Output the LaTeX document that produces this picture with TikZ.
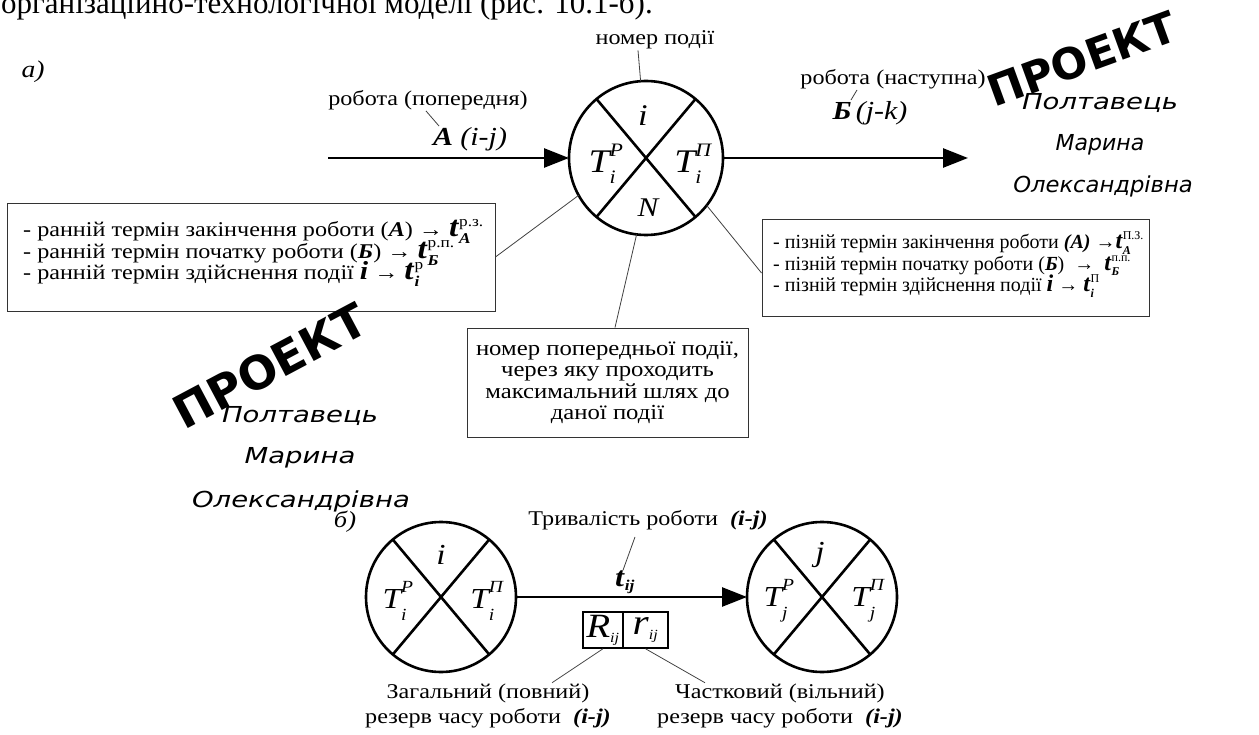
\RequirePackage{fix-cm}
\documentclass[tikz,border=0pt]{standalone}
\usepackage{amsmath}
\usepackage{fontspec}
\setmainfont{Liberation Serif}[FakeStretch=1.15]
\newfontfamily\plainserif{Liberation Serif}
\newfontfamily\stampfont{DejaVu Sans}
\newfontfamily\handfont{DejaVu Sans}
\usetikzlibrary{arrows.meta,calc}
% T label: base size, script size, sub, sup, extra raise
\newcommand\Tlab[5]{{\fontsize{#1}{#1}\selectfont$\textit{T}^{\raisebox{#5}{\fontsize{#2}{#2}\selectfont\itshape #4}}_{\raisebox{-#5}{\fontsize{#2}{#2}\selectfont\itshape #3}}$}}
% big bold t: size, sub, sup, script size
\newcommand\tbig[4]{\smash{\fontsize{#1}{21.5}\selectfont$\textbf{\textit{t}}^{\text{\fontsize{#4}{#4}\selectfont\upshape\mdseries #3}}_{\text{\fontsize{#4}{#4}\selectfont\bfseries\itshape #2}}$}}
\newcommand\ibig[1]{\smash{\fontsize{#1}{21.5}\selectfont\textbf{\textit{i}}}}
\begin{document}
\begin{tikzpicture}[x=1pt,y=-1pt,
  lbl/.style={inner sep=1pt, font=\fontsize{21}{21.5}\selectfont},
  lead/.style={line width=0.8pt, draw=black!75},
  ev/.style={circle, draw, line width=2.6pt, inner sep=0pt, outer sep=0pt},
  cross/.style={line width=2.6pt},
  arr/.style={line width=2.6pt, -{Triangle[length=25pt,width=19pt]}},
  infobox/.style={draw=black!80, line width=0.9pt, inner sep=0pt},
  boxtext/.style={inner sep=0pt, align=left},
  cell/.style={draw, line width=1.5pt, minimum height=36pt, inner sep=0pt},
  stamp/.style={inner sep=0pt, font=\stampfont\bfseries\fontsize{#1}{#1}\selectfont},
  hand/.style={inner sep=0pt, font=\handfont\itshape\fontsize{22}{22}\selectfont}
]
\useasboundingbox (0,0) rectangle (1259,735);

% cut-off heading line
\node[anchor=base west, inner sep=0pt, font=\plainserif\fontsize{31}{31}\selectfont] (title) at (1,14) {організаційно-технологічної моделі (рис. 10.1-б).};

\node[inner sep=0pt, font=\itshape\fontsize{24}{24}\selectfont] (la) at (33,72) {а)};

% ---------- a) ----------
\node[ev, minimum size=154pt] (c1) at (646,158) {};
\draw[cross] (c1.50) -- (c1.230) (c1.130) -- (c1.310);
\node[inner sep=0pt, font=\itshape\fontsize{30}{30}\selectfont] (c1i) at (643,116) {i};
\node[inner sep=0pt] (c1tp) at (606,164) {\Tlab{33}{19}{i}{P}{3pt}};
\node[inner sep=0pt] (c1tl) at (693,164) {\Tlab{33}{19}{i}{П}{3pt}};
\node[inner sep=0pt, font=\itshape\fontsize{27}{27}\selectfont] (c1n) at (648,208) {N};

\coordinate (inA) at (328,158);
\coordinate (outB) at (968,158);
\draw[arr] (inA) -- (c1.west);
\draw[arr] (c1.east) -- (outB);

\node[lbl] (nomer) at (655,40) {номер події};
\draw[lead] ([xshift=-17pt]nomer.south) -- (c1.94);

\node[lbl] (popl) at (428,100) {робота (попередня)};
\node[lbl, font=\fontsize{26}{26}\selectfont] (Aij) at (470,139) {\textbf{\textit{А}} \textit{(i-j)}};
\draw[lead] ([xshift=-2pt]popl.south) -- ([xshift=-31pt]Aij.north);

\node[lbl] (nast) at (893,79) {робота (наступна)};
\node[lbl, font=\fontsize{26}{26}\selectfont] (Bjk) at (870,113) {\textbf{\textit{Б}}\,\textit{(j-k)}};
\draw[lead] ([xshift=-36pt]nast.south) -- ([xshift=-19pt]Bjk.north);

% left box
\node[infobox, minimum width=488pt, minimum height=108pt] (boxL) at (251,257) {};
\node[boxtext, anchor=north west, font=\fontsize{21}{21.5}\selectfont] (boxLt) at (23,221.5) {%
- ранній термін закінчення роботи (\textbf{\textit{А}}) → \tbig{29}{А}{р.з.}{15}\\
- ранній термін початку роботи (\textbf{\textit{Б}}) → \tbig{29}{Б}{р.п.}{15}\\
- ранній термін здійснення події \ibig{26} → \tbig{29}{i}{р}{15}};
\draw[lead] (boxL.east) -- (c1.209);

% right box
\node[infobox, minimum width=387pt, minimum height=97pt] (boxR) at (955.5,267.5) {};
\node[boxtext, anchor=north west, font=\plainserif\fontsize{20}{21.5}\selectfont] (boxRt) at (773,234) {%
- пізній термін закінчення роботи \textbf{\textit{(А)}} →\tbig{24}{А}{П.З.}{12}\\
- пізній термін початку роботи (\textbf{\textit{Б}}) ~→~ \tbig{24}{Б}{п.п.}{12}\\
- пізній термін здійснення події \ibig{24} → \tbig{24}{i}{П}{12}};
\draw[lead] ([yshift=-5.5pt]boxR.west) -- (c1.322);

% centre box
\node[infobox, align=center, minimum width=281pt, minimum height=109pt, font=\fontsize{21.5}{21.5}\selectfont] (boxC) at (607.5,382.5)
 {номер попередньої події,\\ через яку проходить\\ максимальний шлях до\\ даної події};
\draw[lead] ([xshift=7.5pt]boxC.north) -- (c1.263);

% ---------- b) ----------
\node[inner sep=0pt, font=\itshape\fontsize{23}{23}\selectfont] (lb) at (345,522) {б)};

\node[ev, minimum size=150pt] (c2) at (441,597) {};
\node[ev, minimum size=150pt] (c3) at (822,597) {};
\draw[cross] (c2.50) -- (c2.230) (c2.130) -- (c2.310);
\draw[cross] (c3.50) -- (c3.230) (c3.130) -- (c3.310);
\node[inner sep=0pt, font=\itshape\fontsize{29}{29}\selectfont] (c2i) at (441,555) {i};
\node[inner sep=0pt] (c2tp) at (398,601) {\Tlab{29}{17}{i}{P}{5pt}};
\node[inner sep=0pt] (c2tl) at (487,601) {\Tlab{29}{17}{i}{П}{5pt}};
\node[inner sep=0pt, font=\itshape\fontsize{29}{29}\selectfont] (c3j) at (820,555) {j};
\node[inner sep=0pt] (c3tp) at (779,601) {\Tlab{29}{17}{j}{P}{5pt}};
\node[inner sep=0pt] (c3tl) at (868,601) {\Tlab{29}{17}{j}{П}{5pt}};
\draw[arr] (c2.east) -- (c3.west);

\node[inner sep=0pt] (tij) at (625,582) {{\fontsize{28}{28}\selectfont$\textbf{\textit{t}}_{\text{\fontsize{15}{15}\selectfont\bfseries\itshape ij}}$}};
\node[lbl] (tryv) at (648,520) {Тривалість роботи\ \ \textbf{\textit{(i-j)}}};
\draw[lead] ([xshift=-13pt,yshift=-6pt]tryv.south) -- ([xshift=-2pt]tij.north);

\node[cell, minimum width=40pt] (cellR) at (603,630) {{\fontsize{34}{34}\selectfont$\textit{R}_{\text{\fontsize{14}{14}\selectfont\itshape ij}}$}};
\node[cell, minimum width=45pt] (cellr) at (645.5,630) {{\fontsize{36}{36}\selectfont$\textit{r}_{\text{\fontsize{14}{14}\selectfont\itshape ij}}$}};

\node[lbl, align=center, font=\fontsize{21}{25}\selectfont] (zag) at (488,706) {Загальний (повний)\\ резерв часу роботи\ \ \textbf{\textit{(i-j)}}};
\node[lbl, align=center, font=\fontsize{21}{25}\selectfont] (chast) at (780,706) {Частковий (вільний)\\ резерв часу роботи\ \ \textbf{\textit{(i-j)}}};
\draw[lead] (cellR.south) -- ([xshift=64pt]zag.north);
\draw[lead] (cellr.south) -- ([xshift=-75pt]chast.north);

% ---------- watermarks ----------
\node[stamp=43, rotate=20] (st1) at (1082,59) {ПРОЕКТ};
\node[hand] (h1a) at (1100,103) {\scalebox{1.25}[1]{Полтавець}};
\node[hand] (h1b) at (1100,145) {\scalebox{1.0}[1]{Марина}};
\node[hand] (h1c) at (1103,186) {\scalebox{1.03}[1]{Олександрівна}};

\node[stamp=46, rotate=28] (st2) at (270,366) {ПРОЕКТ};
\node[hand] (h2a) at (300,416) {\scalebox{1.25}[1]{Полтавець}};
\node[hand] (h2b) at (300,458) {\scalebox{1.25}[1]{Марина}};
\node[hand] (h2c) at (301,501) {\scalebox{1.25}[1]{Олександрівна}};
\end{tikzpicture}
\end{document}
